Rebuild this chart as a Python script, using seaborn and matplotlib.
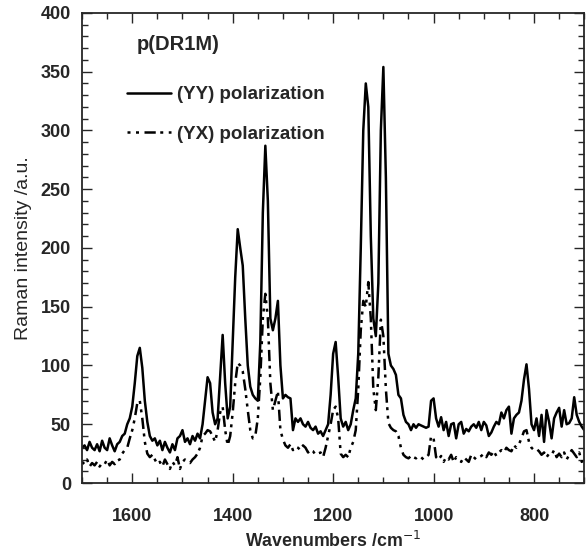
import numpy as np
import pandas as pd
import matplotlib
matplotlib.use("Agg")
import matplotlib.pyplot as plt
import seaborn as sns
from matplotlib.ticker import MultipleLocator

wavenumbers = list(range(1700, 695, -5))

yy_intensity = [
    30, 32, 28, 35, 30, 28, 33, 27, 36, 30,          # 1700-1655
    28, 38, 32, 27, 33, 35, 40, 42, 50, 55,          # 1650-1605
    65, 85, 108, 115, 98, 70, 52, 40, 36, 38,        # 1600-1555
    32, 36, 28, 35, 30, 26, 33, 28, 38, 40,          # 1550-1505
    45, 35, 38, 33, 40, 36, 42, 38, 50, 70,          # 1500-1455
    90, 85, 60, 50, 55, 90, 126, 85, 55, 65,         # 1450-1405
    120, 175, 216, 200, 185, 140, 100, 82, 75, 72,   # 1400-1355
    70, 120, 230, 287, 240, 140, 130, 140, 155, 100, # 1350-1305
    72, 75, 73, 72, 45, 55, 52, 55, 50, 48,          # 1300-1255
    52, 47, 45, 48, 42, 44, 40, 45, 50, 75,          # 1250-1205
    110, 120, 90, 55, 48, 52, 45, 50, 62, 72,        # 1200-1155
    110, 200, 300, 340, 320, 210, 140, 125, 170, 300,# 1150-1105
    354, 260, 110, 100, 97, 92, 75, 72, 58, 52,      # 1100-1055
    50, 45, 50, 47, 50, 49, 48, 47, 48, 70,          # 1050-1005
    72, 55, 48, 56, 45, 52, 40, 50, 51, 38,          # 1000-955
    50, 52, 42, 46, 44, 48, 50, 47, 52, 45,          # 950-905
    52, 49, 40, 43, 48, 52, 50, 60, 55, 62,          # 900-855
    65, 42, 55, 58, 60, 70, 88, 101, 80, 50,         # 850-805
    45, 55, 40, 58, 35, 62, 52, 38, 55, 60,          # 800-755
    64, 48, 62, 50, 51, 55, 73, 58, 52, 48,          # 750-705
    45,                                              # 700
]

yx_intensity = [
    18, 16, 20, 14, 17, 15, 18, 14, 17, 16,          # 1700-1655
    20, 15, 18, 16, 19, 20, 25, 28, 30, 38,          # 1650-1605
    45, 55, 68, 70, 55, 35, 25, 22, 24, 20,          # 1600-1555
    16, 18, 14, 20, 16, 12, 18, 15, 22, 12,          # 1550-1505
    18, 20, 18, 17, 20, 22, 25, 30, 40, 42,          # 1500-1455
    45, 44, 40, 35, 45, 60, 65, 45, 32, 40,          # 1450-1405
    60, 85, 102, 100, 95, 80, 62, 45, 38, 40,        # 1400-1355
    55, 90, 140, 161, 140, 85, 62, 70, 78, 45,       # 1350-1305
    37, 32, 30, 33, 28, 31, 30, 28, 32, 30,          # 1300-1255
    26, 28, 27, 24, 25, 26, 22, 30, 40, 50,          # 1250-1205
    62, 65, 55, 25, 22, 24, 22, 30, 35, 45,          # 1200-1155
    80, 130, 155, 150, 171, 140, 80, 62, 90, 139,    # 1150-1105
    125, 80, 51, 47, 45, 44, 40, 30, 24, 22,         # 1100-1055
    21, 23, 22, 21, 23, 22, 20, 22, 24, 40,          # 1050-1005
    38, 22, 20, 23, 18, 22, 20, 24, 18, 22,          # 1000-955
    20, 18, 22, 20, 18, 24, 22, 20, 22, 23,          # 950-905
    25, 22, 26, 24, 27, 23, 26, 28, 26, 30,          # 900-855
    28, 27, 32, 30, 33, 38, 44, 45, 35, 30,          # 850-805
    28, 29, 27, 24, 26, 22, 25, 24, 28, 22,          # 800-755
    25, 22, 26, 20, 24, 28, 25, 22, 26, 18,          # 750-705
    20,                                              # 700
]

series_labels = ["(YY) polarization", "(YX) polarization"]
sample_name = "p(DR1M)"

df = pd.DataFrame({
    "wavenumber": wavenumbers * 2,
    "intensity": yy_intensity + yx_intensity,
    "pol": [series_labels[0]] * len(wavenumbers) + [series_labels[1]] * len(wavenumbers),
})

sns.set_style("ticks")
plt.rcParams["font.family"] = ["Liberation Sans", "DejaVu Sans"]

fig = plt.figure(figsize=(5.86, 5.55), dpi=100)
ax = fig.add_axes([0.140, 0.1297, 0.857, 0.847])

sns.lineplot(data=df, x="wavenumber", y="intensity", hue="pol", style="pol",
             palette=["black", "black"],
             dashes={series_labels[0]: "", series_labels[1]: (1.2, 2.2, 1.2, 2.2, 4.5, 1.8)},
             linewidth=1.8, ax=ax, legend=True, sort=False)

ax.set_xlim(1700, 700)
ax.set_ylim(0, 400)
ax.xaxis.set_major_locator(MultipleLocator(200))
ax.xaxis.set_minor_locator(MultipleLocator(50))
ax.yaxis.set_major_locator(MultipleLocator(50))
ax.yaxis.set_minor_locator(MultipleLocator(10))
ax.tick_params(which="both", direction="in", top=True, right=True, width=1.0)
ax.tick_params(which="major", length=7, labelsize=13, pad=8)
ax.tick_params(axis="x", which="major", pad=18)
ax.tick_params(which="minor", length=4)
for lab in ax.get_xticklabels() + ax.get_yticklabels():
    lab.set_fontweight("bold")
for s in ax.spines.values():
    s.set_linewidth(1.3)

ax.set_xlabel("Wavenumbers /cm$^{-1}$", fontsize=12.8, fontweight="bold", labelpad=4)
ax.set_ylabel("Raman intensity /a.u.", fontsize=14, labelpad=6)

leg = ax.legend(loc="upper left", bbox_to_anchor=(0.055, 0.88), frameon=False,
                handlelength=2.35, handletextpad=0.35, labelspacing=1.2,
                prop={"size": 13.5, "weight": "bold"})
ax.text(0.108, 0.932, sample_name, transform=ax.transAxes, fontsize=14.5,
        fontweight="bold", ha="left", va="center")

fig.savefig("out.png", dpi=100)
